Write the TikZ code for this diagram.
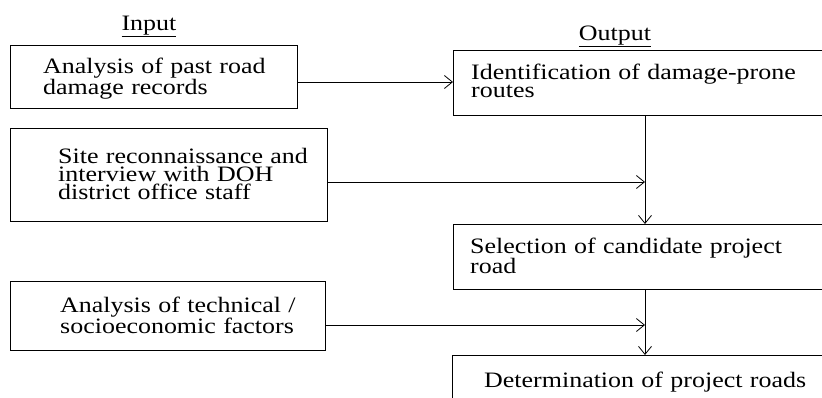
\documentclass[tikz,border=0pt]{standalone}
\usepackage{fontspec}
\setmainfont{Liberation Serif}[FakeStretch=1.18, WordSpace=2.3]
\usetikzlibrary{arrows.meta}
\newcommand{\txtfont}[1]{\fontsize{22}{#1}\selectfont\lineskiplimit=-50pt\relax}
\begin{document}
\begin{tikzpicture}[x=1pt,y=-1pt,
  box/.style={draw, line width=0.8pt, anchor=north west, inner sep=0pt},
  txt/.style={anchor=base west, inner sep=0pt, text width=380pt, align=left, font=\fontsize{22}{18}\selectfont},
  title/.style={anchor=base, inner sep=0pt, font=\fontsize{22}{22}\selectfont},
  link/.style={line width=0.8pt, -{Straight Barb[length=8pt,width=13pt,line width=0.8pt]}},
  line/.style={line width=0.8pt}]
\useasboundingbox (0,0) rectangle (822,397);
\clip (0,0) rectangle (822,397);
% titles
\node[title] (inp) at (149,30) {\underline{Input}};
\node[title] (outp) at (615,40) {\underline{Output}};
% boxes
\node[box, minimum width=287pt, minimum height=63pt] (A) at (10,45) {};
\node[box, minimum width=317pt, minimum height=93pt] (B) at (10,128) {};
\node[box, minimum width=315pt, minimum height=69pt] (C) at (10,281) {};
\node[box, minimum width=400pt, minimum height=65pt] (D) at (453,50) {};
\node[box, minimum width=400pt, minimum height=65pt] (E) at (453,224) {};
\node[box, minimum width=400pt, minimum height=80pt] (F) at (452,355) {};
% texts
\node[txt] (At) at (43,73) {\txtfont{18}Analysis of past road\\damage records};
\node[txt] (Bt) at (58,163) {\txtfont{18.5}Site reconnaissance and\\interview with DOH\\district office staff};
\node[txt] (Ct) at (60,312) {\txtfont{18}Analysis of technical /\\socioeconomic factors};
\node[txt] (Dt) at (471,79) {\txtfont{17.5}Identification of damage-prone\\routes};
\node[txt] (Et) at (470,253) {\txtfont{22}Selection of candidate project\\road};
\node[txt] (Ft) at (484,387) {\txtfont{18}Determination of project roads};
% helper coordinates
\coordinate (tx) at (645,0);
\coordinate (ya) at (0,82);
\coordinate (yb) at (0,182);
\coordinate (yc) at (0,325);
% connectors
\draw[link] (A.east |- ya) -- (D.west |- ya);
\draw[link] (tx |- D.south) -- (tx |- E.north);
\draw[link] (B.east |- yb) -- (tx |- yb);
\draw[link] (tx |- E.south) -- (tx |- F.north);
\draw[link] (C.east |- yc) -- (tx |- yc);
\end{tikzpicture}
\end{document}
